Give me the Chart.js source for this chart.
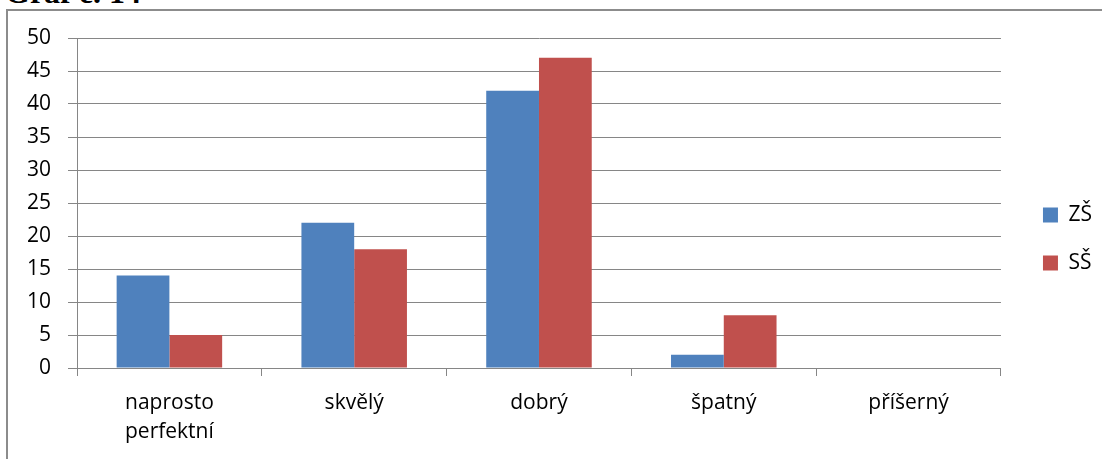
<!DOCTYPE html>
<html>
<head>
<meta charset="utf-8">
<script src="https://cdn.jsdelivr.net/npm/chart.js@4.4.0/dist/chart.umd.min.js"></script>
<style>
  html, body { margin: 0; padding: 0; background: #fff; overflow: hidden; }
  #wrap { position: relative; width: 1102px; height: 459px; }
  #caption {
    position: absolute; left: 5px; top: -24px;
    font: bold 32px "Liberation Serif", serif; line-height: 32px; color: #000;
    white-space: nowrap;
  }
  #frame {
    position: absolute; left: 6px; top: 9px; width: 1200px; height: 600px;
    border-left: 2px solid #8c8c8c; border-top: 2px solid #8c8c8c;
  }
  #chart { position: absolute; left: 0; top: 0; }
</style>
</head>
<body>
<div id="wrap">
  <div id="caption">Graf č. 14</div>
  <div id="frame"></div>
  <canvas id="chart" width="1102" height="459"></canvas>
</div>
<script>
// Ratings and counts per school type
const categories = [["naprosto", "perfektní"], "skvělý", "dobrý", "špatný", "příšerný"];
const zsValues = [14, 22, 42, 2, 0];
const ssValues = [5, 18, 47, 8, 0];
const seriesNames = ["ZŠ", "SŠ"];
const yTicks = { min: 0, max: 50, step: 5 };

const FONT = "'Open Sans', 'Liberation Sans', sans-serif";
const GRID = "#868686";

new Chart(document.getElementById("chart"), {
  type: "bar",
  data: {
    labels: categories,
    datasets: [
      { label: seriesNames[0], data: zsValues, backgroundColor: "#4F81BD", borderWidth: 0 },
      { label: seriesNames[1], data: ssValues, backgroundColor: "#C0504D", borderWidth: 0 }
    ]
  },
  options: {
    responsive: false,
    animation: false,
    events: [],
    layout: { padding: { top: 19, bottom: 0, left: 0, right: 0 } },
    datasets: { bar: { categoryPercentage: 0.571, barPercentage: 1.0 } },
    plugins: {
      tooltip: { enabled: false },
      legend: {
        position: "right",
        labels: {
          boxWidth: 15, boxHeight: 15, padding: 27,
          color: "#000",
          font: { family: FONT, size: 21 }
        }
      }
    },
    scales: {
      x: {
        grid: { offset: true, drawOnChartArea: false, tickLength: 8, color: GRID, lineWidth: 1 },
        border: { color: GRID, width: 1 },
        ticks: { color: "#000", padding: 13, maxRotation: 0, autoSkip: false,
                 font: { family: FONT, size: 21, lineHeight: 1.36 } },
        afterFit: s => { s.height = 91; }
      },
      y: {
        min: yTicks.min, max: yTicks.max,
        grid: { tickLength: 9, color: GRID, lineWidth: 1 },
        border: { color: GRID, width: 1 },
        ticks: { stepSize: yTicks.step, color: "#000", padding: 17,
                 font: { family: FONT, size: 21 } },
        afterFit: s => { s.width = 77; }
      },
      topGap: {
        type: "category", position: "top", display: true,
        grid: { display: false }, border: { display: false },
        ticks: { display: false },
        afterFit: s => { s.height = 19; }
      },
      rightGap: {
        position: "right", display: true,
        grid: { display: false }, border: { display: false },
        ticks: { display: false },
        afterFit: s => { s.width = 15; }
      }
    }
  }
});
</script>
</body>
</html>
